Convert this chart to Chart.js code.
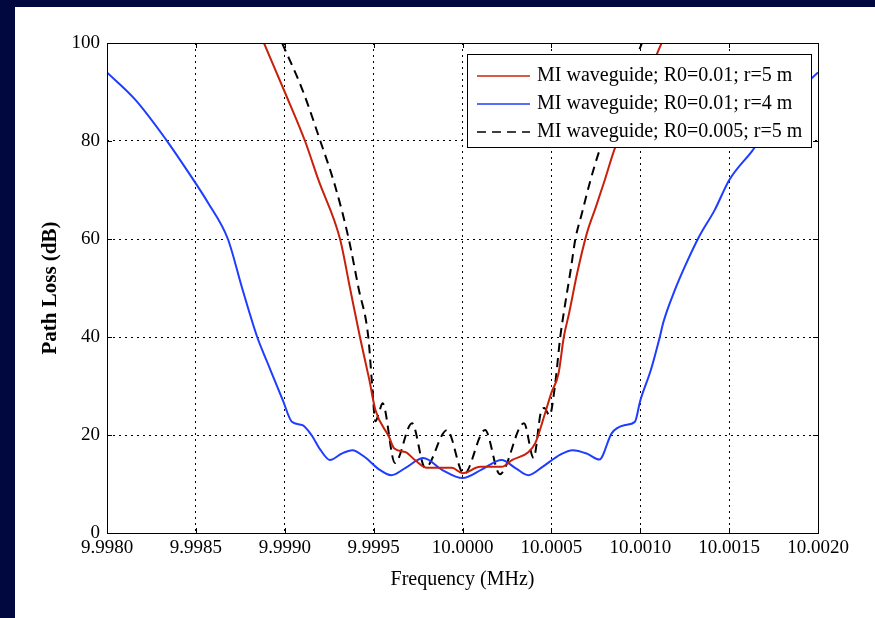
<!DOCTYPE html>
<html>
<head>
<meta charset="utf-8">
<script src="https://cdn.jsdelivr.net/npm/chart.js@4"></script>
<style>
  html, body { margin: 0; padding: 0; background: #010840; }
  #panel { position: absolute; left: 15px; top: 7px; width: 860px; height: 611px; background: #fff; }
</style>
</head>
<body>
<div id="panel"><canvas id="lossChart" width="860" height="611"></canvas></div>
<script>
// frequency (MHz) / path loss (dB)
const freqRed = [9.998883, 9.999, 9.999114, 9.99919, 9.999311, 9.999367, 9.999423, 9.999475, 9.99951,
  9.999587, 9.999615, 9.99968, 9.999732, 9.9998, 9.99994, 10.0, 10.0001, 10.00022, 10.00028, 10.00037,
  10.00041, 10.000465, 10.0005, 10.00054, 10.00057, 10.0006, 10.000645, 10.0007, 10.00075,
  10.0008, 10.00086, 10.00099, 10.00112];
const lossRed = [100, 90, 80, 72, 60, 50, 40, 31.4, 25.1, 19.6, 17.3, 16.5, 14.9, 13.3, 13.3, 12.2,
  13.5, 13.5, 14.9, 16.5, 18.4, 24.5, 28.6, 32.5, 40, 44.9, 53, 61.2, 66.5, 72, 78.8, 89, 100];

const freqBlue = [9.998, 9.99816, 9.99833, 9.99846, 9.99857, 9.99868, 9.99876, 9.998845, 9.9989,
  9.998945, 9.99899, 9.99904, 9.9991, 9.99915, 9.9992, 9.999255, 9.99932, 9.99938, 9.99945, 9.99953,
  9.9996, 9.99968, 9.99978, 9.999885, 10.0, 10.00011, 10.00022, 10.0003, 10.00037, 10.00045, 10.00055,
  10.00062, 10.0007, 10.00077, 10.00084, 10.00091, 10.00097, 10.001, 10.00106, 10.00111, 10.00113,
  10.001195, 10.00125, 10.00133, 10.00142, 10.0015, 10.00163, 10.00175, 10.00187, 10.002];
const lossBlue = [94, 88.4, 80.4, 73.5, 67.3, 60, 50, 40, 35, 31, 27, 22.7, 22, 20, 17, 14.9, 16.2,
  16.9, 15.5, 13, 11.8, 13.3, 15.3, 12.9, 11.2, 13, 14.9, 13.2, 11.8, 13.5, 16, 16.9, 16.2, 15, 20.4,
  22, 22.7, 27, 33.3, 40, 43, 49.6, 54.3, 60.4, 66, 72, 78, 84, 89.5, 94];

const freqBlack = [9.998985, 9.9991, 9.9992, 9.999285, 9.99936, 9.999415, 9.99947, 9.99949, 9.99951,
  9.99953, 9.99955, 9.99962, 9.999716, 9.99979, 9.999913, 10.000008, 10.000127, 10.00021, 10.000346,
  10.0004, 10.00044, 10.00046, 10.00049, 10.00052, 10.00055, 10.00057, 10.00061, 10.000635, 10.00067,
  10.00072, 10.00077, 10.00089, 10.00101];
const lossBlack = [100, 90.4, 80, 70.6, 60, 50, 40, 31, 22.8, 24.5, 26.5, 14.3, 22.4, 13.3, 21, 12,
  21, 12, 22.4, 15.3, 24.5, 25.5, 24, 30, 40, 45, 54, 60, 65, 72, 78, 89, 100];

const seriesLabels = [
  'MI waveguide; R0=0.01; r=5 m',
  'MI waveguide; R0=0.01; r=4 m',
  'MI waveguide; R0=0.005; r=5 m'
];

const xTicksMin = 9.998, xTicksMax = 10.002, xStep = 0.0005;
const yTicksMin = 0, yTicksMax = 100, yStep = 20;

const serif = "'Liberation Serif', 'Times New Roman', serif";

function pts(xs, ys) {
  return xs.map((x, i) => ({ x: x, y: ys[i] }));
}

// axes box with inward ticks, like the original
const boxPlugin = {
  id: 'box',
  afterDatasetsDraw(chart) {
    const { ctx, chartArea: a, scales } = chart;
    ctx.save();
    ctx.strokeStyle = '#000';
    ctx.lineWidth = 1;
    ctx.setLineDash([]);
    ctx.strokeRect(Math.round(a.left) + 0.5, Math.round(a.top) + 0.5,
      Math.round(a.right - a.left), Math.round(a.bottom - a.top));
    const t = 5;
    ctx.beginPath();
    scales.x.ticks.forEach(tk => {
      const px = Math.round(scales.x.getPixelForValue(tk.value)) + 0.5;
      ctx.moveTo(px, a.bottom); ctx.lineTo(px, a.bottom - t);
      ctx.moveTo(px, a.top); ctx.lineTo(px, a.top + t);
    });
    scales.y.ticks.forEach(tk => {
      const py = Math.round(scales.y.getPixelForValue(tk.value)) + 0.5;
      ctx.moveTo(a.left, py); ctx.lineTo(a.left + t, py);
      ctx.moveTo(a.right, py); ctx.lineTo(a.right - t, py);
    });
    ctx.stroke();
    ctx.restore();
  }
};

// boxed legend inside the upper right of the plot
const legendPlugin = {
  id: 'boxLegend',
  afterDraw(chart) {
    const { ctx, chartArea: a } = chart;
    const right = a.right - 7, top = a.top + 11;
    const w = 344, h = 93;
    const left = right - w;
    ctx.save();
    ctx.fillStyle = '#fff';
    ctx.fillRect(left, top, w, h);
    ctx.strokeStyle = '#000';
    ctx.lineWidth = 1;
    ctx.strokeRect(Math.round(left) + 0.5, Math.round(top) + 0.5, w, h);
    ctx.font = '20px ' + serif;
    ctx.textBaseline = 'middle';
    chart.data.datasets.forEach((ds, i) => {
      const y = top + 22 + i * 28;
      ctx.strokeStyle = ds.borderColor;
      ctx.lineWidth = 1.5;
      ctx.setLineDash(ds.borderDash || []);
      ctx.beginPath();
      ctx.moveTo(left + 10, y);
      ctx.lineTo(left + 63, y);
      ctx.stroke();
      ctx.fillStyle = '#000';
      ctx.fillText(ds.label, left + 70, y);
    });
    ctx.restore();
  }
};

const ctx = document.getElementById('lossChart').getContext('2d');

new Chart(ctx, {
  type: 'line',
  data: {
    datasets: [
      { label: seriesLabels[0], data: pts(freqRed, lossRed), borderColor: '#C8200A', borderWidth: 2 },
      { label: seriesLabels[1], data: pts(freqBlue, lossBlue), borderColor: '#1F3DFF', borderWidth: 2 },
      { label: seriesLabels[2], data: pts(freqBlack, lossBlack), borderColor: '#000000', borderWidth: 2,
        borderDash: [9, 6] }
    ]
  },
  options: {
    responsive: false,
    animation: false,
    devicePixelRatio: 1,
    elements: {
      point: { radius: 0 },
      line: { cubicInterpolationMode: 'monotone' }
    },
    layout: { padding: { top: 36, right: 57, left: 0, bottom: 0 } },
    plugins: {
      legend: { display: false },
      tooltip: { enabled: false }
    },
    scales: {
      x: {
        type: 'linear',
        min: xTicksMin,
        max: xTicksMax,
        afterFit: s => { s.height = 85; },
        ticks: {
          stepSize: xStep,
          autoSkip: false,
          maxRotation: 0,
          padding: 4,
          color: '#000',
          font: { family: serif, size: 19 },
          callback: v => Number(v).toFixed(4)
        },
        grid: { color: '#000', lineWidth: 1, drawTicks: false },
        border: { display: false, dash: [2, 4] },
        title: {
          display: true,
          text: 'Frequency (MHz)',
          color: '#000',
          font: { family: serif, size: 20 },
          padding: { top: 0, bottom: 26 }
        }
      },
      y: {
        min: yTicksMin,
        max: yTicksMax,
        afterFit: s => { s.width = 92; },
        ticks: {
          stepSize: yStep,
          padding: 7,
          color: '#000',
          font: { family: serif, size: 19 }
        },
        grid: { color: '#000', lineWidth: 1, drawTicks: false },
        border: { display: false, dash: [2, 4] },
        title: {
          display: true,
          text: 'Path Loss (dB)',
          color: '#000',
          font: { family: serif, size: 21, weight: 'bold' },
          padding: { top: 23, bottom: 0 }
        }
      }
    }
  },
  plugins: [boxPlugin, legendPlugin]
});
</script>
</body>
</html>
